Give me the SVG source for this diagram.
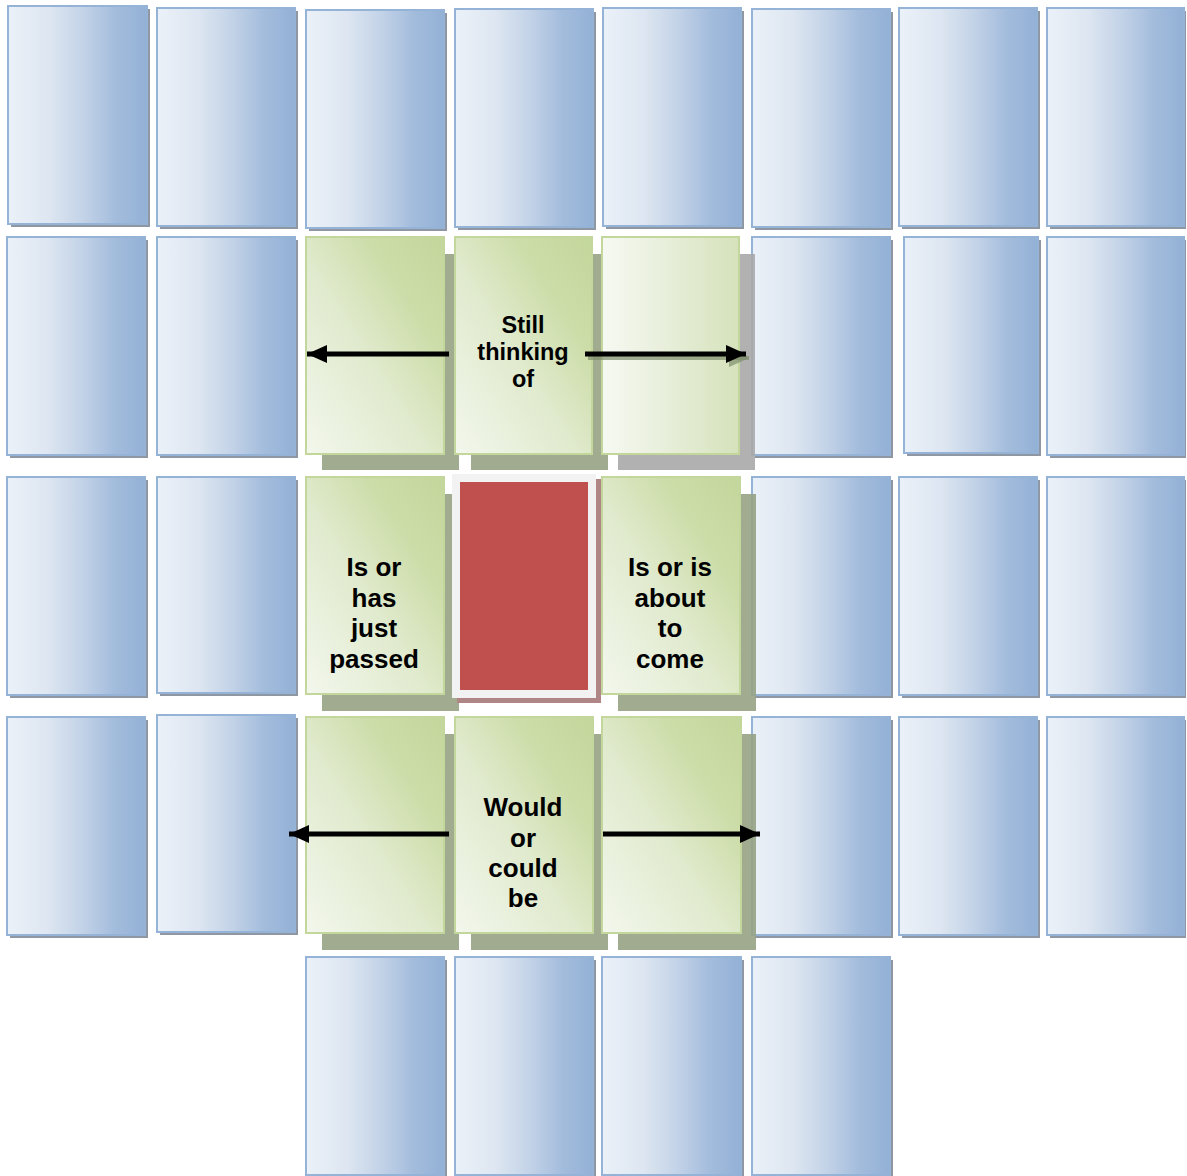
<svg xmlns="http://www.w3.org/2000/svg" width="1187" height="1176" viewBox="0 0 1187 1176">
<defs>
<linearGradient id="gBlue" x1="0" y1="0" x2="1" y2="0">
<stop offset="0" stop-color="#ebf1f8"/>
<stop offset="0.3" stop-color="#dde6f1"/>
<stop offset="0.55" stop-color="#c2d2e7"/>
<stop offset="0.78" stop-color="#a3bcdc"/>
<stop offset="1" stop-color="#93b1d6"/>
</linearGradient>
<linearGradient id="gGreen" x1="0" y1="1" x2="1" y2="0">
<stop offset="0" stop-color="#f3f7ed"/>
<stop offset="0.45" stop-color="#e0eacd"/>
<stop offset="0.72" stop-color="#cddda9"/>
<stop offset="1" stop-color="#c3d69b"/>
</linearGradient>
<linearGradient id="gGreenLight" x1="0" y1="0" x2="1" y2="0">
<stop offset="0" stop-color="#f6f9f2"/>
<stop offset="0.4" stop-color="#eaf0de"/>
<stop offset="1" stop-color="#d5e2bb"/>
</linearGradient>
<marker id="head" markerUnits="userSpaceOnUse" markerWidth="22" markerHeight="20" refX="20" refY="10" orient="auto">
<path d="M0,1 L20,10 L0,19 Z" fill="#000"/>
</marker>
<marker id="headShadow" markerUnits="userSpaceOnUse" markerWidth="22" markerHeight="20" refX="20" refY="10" orient="auto">
<path d="M0,1 L20,10 L0,19 Z" fill="#7f8f6c" fill-opacity="0.7"/>
</marker>
</defs>
<style>
.blue{fill:url(#gBlue);stroke:#95b3d7;stroke-width:2}
.bsh{fill:#8f97a2}
.green{fill:url(#gGreen);stroke:#c3d69b;stroke-width:2}
.greenL{fill:url(#gGreenLight);stroke:#c3d69b;stroke-width:2}
.gsh{fill:#96a284;fill-opacity:0.9}
.gsh2{fill:#a8a8a8;fill-opacity:0.9}
.lbl{font-family:"Liberation Sans",Arial,sans-serif;font-weight:bold;fill:#000;text-anchor:middle}
.arrow{stroke:#000;stroke-width:5;fill:none}
</style>
<rect width="1187" height="1176" fill="#fff"/>

<!-- Blue cards -->
<g id="blue-r1c1"><rect class="bsh" x="11" y="9" width="139" height="218"/><rect class="blue" x="8" y="6" width="139" height="218"/></g>
<g id="blue-r1c2"><rect class="bsh" x="160" y="11" width="138" height="218"/><rect class="blue" x="157" y="8" width="138" height="218"/></g>
<g id="blue-r1c3"><rect class="bsh" x="309" y="13" width="138" height="218"/><rect class="blue" x="306" y="10" width="138" height="218"/></g>
<g id="blue-r1c4"><rect class="bsh" x="458" y="12" width="138" height="218"/><rect class="blue" x="455" y="9" width="138" height="218"/></g>
<g id="blue-r1c5"><rect class="bsh" x="606" y="11" width="138" height="218"/><rect class="blue" x="603" y="8" width="138" height="218"/></g>
<g id="blue-r1c6"><rect class="bsh" x="755" y="12" width="138" height="218"/><rect class="blue" x="752" y="9" width="138" height="218"/></g>
<g id="blue-r1c7"><rect class="bsh" x="902" y="11" width="138" height="218"/><rect class="blue" x="899" y="8" width="138" height="218"/></g>
<g id="blue-r1c8"><rect class="bsh" x="1050" y="11" width="136" height="218"/><rect class="blue" x="1047" y="8" width="137" height="218"/></g>

<g id="blue-r2c1"><rect class="bsh" x="10" y="240" width="138" height="218"/><rect class="blue" x="7" y="237" width="138" height="218"/></g>
<g id="blue-r2c2"><rect class="bsh" x="160" y="240" width="138" height="218"/><rect class="blue" x="157" y="237" width="138" height="218"/></g>
<g id="blue-r2c6"><rect class="bsh" x="755" y="240" width="138" height="218"/><rect class="blue" x="752" y="237" width="138" height="218"/></g>
<g id="blue-r2c7"><rect class="bsh" x="907" y="240" width="134" height="216"/><rect class="blue" x="904" y="237" width="134" height="216"/></g>
<g id="blue-r2c8"><rect class="bsh" x="1050" y="240" width="136" height="218"/><rect class="blue" x="1047" y="237" width="137" height="218"/></g>

<g id="blue-r3c1"><rect class="bsh" x="10" y="480" width="138" height="218"/><rect class="blue" x="7" y="477" width="138" height="218"/></g>
<g id="blue-r3c2"><rect class="bsh" x="160" y="480" width="138" height="216"/><rect class="blue" x="157" y="477" width="138" height="216"/></g>
<g id="blue-r3c6"><rect class="bsh" x="755" y="480" width="138" height="218"/><rect class="blue" x="752" y="477" width="138" height="218"/></g>
<g id="blue-r3c7"><rect class="bsh" x="902" y="480" width="138" height="218"/><rect class="blue" x="899" y="477" width="138" height="218"/></g>
<g id="blue-r3c8"><rect class="bsh" x="1050" y="480" width="136" height="218"/><rect class="blue" x="1047" y="477" width="137" height="218"/></g>

<g id="blue-r4c1"><rect class="bsh" x="10" y="720" width="138" height="218"/><rect class="blue" x="7" y="717" width="138" height="218"/></g>
<g id="blue-r4c2"><rect class="bsh" x="160" y="718" width="138" height="217"/><rect class="blue" x="157" y="715" width="138" height="217"/></g>
<g id="blue-r4c6"><rect class="bsh" x="755" y="720" width="138" height="218"/><rect class="blue" x="752" y="717" width="138" height="218"/></g>
<g id="blue-r4c7"><rect class="bsh" x="902" y="720" width="138" height="218"/><rect class="blue" x="899" y="717" width="138" height="218"/></g>
<g id="blue-r4c8"><rect class="bsh" x="1050" y="720" width="136" height="218"/><rect class="blue" x="1047" y="717" width="137" height="218"/></g>

<g id="blue-r5c3"><rect class="bsh" x="309" y="960" width="138" height="218"/><rect class="blue" x="306" y="957" width="138" height="218"/></g>
<g id="blue-r5c4"><rect class="bsh" x="458" y="960" width="138" height="218"/><rect class="blue" x="455" y="957" width="138" height="218"/></g>
<g id="blue-r5c5"><rect class="bsh" x="605" y="960" width="139" height="218"/><rect class="blue" x="602" y="957" width="139" height="218"/></g>
<g id="blue-r5c6"><rect class="bsh" x="755" y="960" width="138" height="218"/><rect class="blue" x="752" y="957" width="138" height="218"/></g>

<!-- Green card shadows -->
<g id="green-shadows">
<rect class="gsh" x="322" y="254" width="137" height="216"/>
<rect class="gsh" x="471" y="254" width="137" height="216"/>
<rect class="gsh2" x="618" y="254" width="137" height="216"/>
<rect class="gsh" x="322" y="494" width="137" height="217"/>
<rect class="gsh" x="618" y="494" width="138" height="217"/>
<rect class="gsh" x="322" y="734" width="137" height="216"/>
<rect class="gsh" x="471" y="734" width="137" height="216"/>
<rect class="gsh" x="618" y="734" width="138" height="216"/>
</g>

<!-- Green cards -->
<g id="green-r2c3"><rect class="green" x="306" y="237" width="138" height="217"/></g>
<g id="green-r2c4"><rect class="green" x="455" y="237" width="137" height="217"/>
<text class="lbl" font-size="23.5" x="523" y="333">Still</text>
<text class="lbl" font-size="23.5" x="523" y="360">thinking</text>
<text class="lbl" font-size="23.5" x="523" y="387">of</text></g>
<g id="green-r2c5"><rect class="greenL" x="602" y="237" width="137" height="217"/></g>

<g id="green-r3c3"><rect class="green" x="306" y="477" width="138" height="217"/>
<text class="lbl" font-size="26" x="374" y="576">Is or</text>
<text class="lbl" font-size="26" x="374" y="606.5">has</text>
<text class="lbl" font-size="26" x="374" y="637">just</text>
<text class="lbl" font-size="26" x="374" y="667.5">passed</text></g>
<g id="red-center"><rect x="457" y="479" width="144" height="224" fill="#b08585"/><rect x="452" y="474" width="144" height="224" fill="#f2f2f2"/><rect x="460" y="482" width="128" height="208" fill="#c0504d"/></g>
<g id="green-r3c5"><rect class="green" x="602" y="477" width="138" height="217"/>
<text class="lbl" font-size="26" x="670" y="576">Is or is</text>
<text class="lbl" font-size="26" x="670" y="606.5">about</text>
<text class="lbl" font-size="26" x="670" y="637">to</text>
<text class="lbl" font-size="26" x="670" y="667.5">come</text></g>

<g id="green-r4c3"><rect class="green" x="306" y="717" width="138" height="216"/></g>
<g id="green-r4c4"><rect class="green" x="455" y="717" width="138" height="216"/>
<text class="lbl" font-size="26" x="523" y="816">Would</text>
<text class="lbl" font-size="26" x="523" y="846.5">or</text>
<text class="lbl" font-size="26" x="523" y="877">could</text>
<text class="lbl" font-size="26" x="523" y="907">be</text></g>
<g id="green-r4c5"><rect class="green" x="602" y="717" width="139" height="216"/></g>

<!-- Connectors -->
<g id="connectors">
<line x1="588" y1="358" x2="749" y2="358" stroke="#7f8f6c" stroke-opacity="0.7" stroke-width="4" marker-end="url(#headShadow)"/>
<line class="arrow" x1="449" y1="354" x2="307" y2="354" marker-end="url(#head)"/>
<line class="arrow" x1="585" y1="354" x2="746" y2="354" stroke-width="4" marker-end="url(#head)"/>
<line class="arrow" x1="449" y1="834" x2="289" y2="834" marker-end="url(#head)"/>
<line class="arrow" x1="603" y1="834" x2="760" y2="834" marker-end="url(#head)"/>
</g>
</svg>
